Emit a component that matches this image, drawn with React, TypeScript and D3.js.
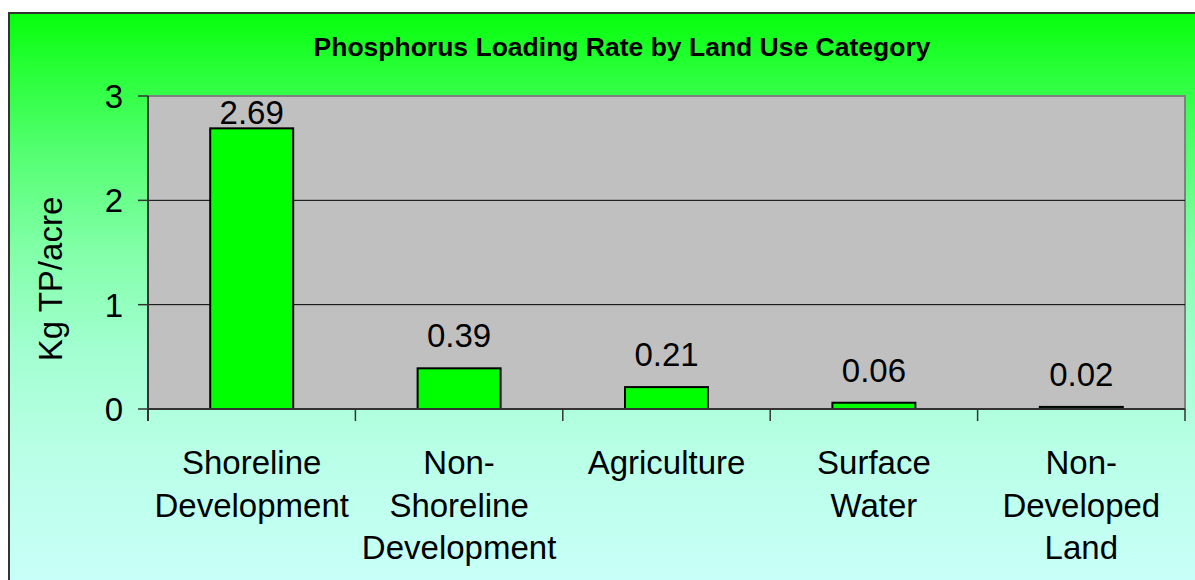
import React from "react";
import * as d3 from "d3";

const categories: string[][] = [
  ["Shoreline", "Development"],
  ["Non-", "Shoreline", "Development"],
  ["Agriculture"],
  ["Surface", "Water"],
  ["Non-", "Developed", "Land"],
];
const values: number[] = [2.69, 0.39, 0.21, 0.06, 0.02];
const yTicks: number[] = [0, 1, 2, 3];
const title = "Phosphorus Loading Rate by Land Use Category";
const yLabel = "Kg TP/acre";

const W = 1195;
const H = 580;
const plot = { left: 148, top: 96, right: 1185, bottom: 409 };
const font = "'Liberation Sans', Arial, sans-serif";
const fs = 33;

export default function App() {
  const x = d3
    .scaleBand<number>()
    .domain(values.map((_, i) => i))
    .range([plot.left, plot.right])
    .paddingInner(0.6)
    .paddingOuter(0.3);
  const band = d3.scaleBand<number>().domain(values.map((_, i) => i)).range([plot.left, plot.right]);
  const y = d3.scaleLinear().domain([0, 3]).range([plot.bottom, plot.top]);

  return (
    <svg width={W} height={H} style={{ position: "absolute", left: 0, top: 0 }}>
      <defs>
        <linearGradient id="bg" gradientUnits="userSpaceOnUse" x1="0" y1="13" x2="0" y2="580">
          <stop offset="0" stopColor="#06ff0c" />
          <stop offset="0.083" stopColor="#22ff30" />
          <stop offset="0.242" stopColor="#52ff70" />
          <stop offset="0.418" stopColor="#82ffa8" />
          <stop offset="0.594" stopColor="#a2ffd0" />
          <stop offset="0.77" stopColor="#b8ffe6" />
          <stop offset="1" stopColor="#c8fff8" />
        </linearGradient>
      </defs>
      <rect x={0} y={0} width={W} height={H} fill="#fff" />
      <rect x={9} y={13} width={1200} height={600} fill="url(#bg)" stroke="#333" strokeWidth={2} />
      <text x={622} y={56} textAnchor="middle" fontFamily={font} fontWeight="bold" fontSize={26.5}>
        {title}
      </text>
      {/* plot area */}
      <rect
        x={plot.left}
        y={plot.top}
        width={plot.right - plot.left}
        height={plot.bottom - plot.top}
        fill="#c0c0c0"
        stroke="#808080"
        strokeWidth={2}
      />
      {yTicks
        .filter((t) => t > 0 && t < 3)
        .map((t) => (
          <line key={"g" + t} x1={plot.left} x2={plot.right} y1={y(t)} y2={y(t)} stroke="#000" strokeWidth={1} />
        ))}
      {/* bars */}
      {values.map((v, i) => (
        <rect
          key={"b" + i}
          x={x(i)!}
          y={y(v)}
          width={x.bandwidth()}
          height={plot.bottom - y(v)}
          fill="#00ff00"
          stroke="#000"
          strokeWidth={2}
        />
      ))}
      {/* axes */}
      <line x1={plot.left} x2={plot.left} y1={plot.top} y2={plot.bottom + 12} stroke="#333" strokeWidth={2} />
      <line x1={plot.left} x2={plot.right} y1={plot.bottom} y2={plot.bottom} stroke="#333" strokeWidth={2} />
      {yTicks.map((t) => (
        <g key={"t" + t}>
          <line x1={plot.left - 10} x2={plot.left} y1={y(t)} y2={y(t)} stroke="#333" strokeWidth={1.5} />
          <text x={123} y={y(t) + 12} textAnchor="end" fontFamily={font} fontSize={fs}>
            {t}
          </text>
        </g>
      ))}
      {values.map((_, i) => (
        <line
          key={"xt" + i}
          x1={band(i)! + band.bandwidth()}
          x2={band(i)! + band.bandwidth()}
          y1={plot.bottom}
          y2={plot.bottom + 12}
          stroke="#333"
          strokeWidth={1.5}
        />
      ))}
      {/* value labels */}
      {values.map((v, i) => (
        <text
          key={"v" + i}
          x={x(i)! + x.bandwidth() / 2}
          y={Math.max(y(v) - 21, plot.top + 28)}
          textAnchor="middle"
          fontFamily={font}
          fontSize={fs}
        >
          {v.toFixed(2)}
        </text>
      ))}
      {/* category labels */}
      {categories.map((lines, i) => (
        <text key={"c" + i} textAnchor="middle" fontFamily={font} fontSize={fs}>
          {lines.map((l, j) => (
            <tspan key={j} x={band(i)! + band.bandwidth() / 2} y={474 + j * 42.5}>
              {l}
            </tspan>
          ))}
        </text>
      ))}
      <text
        transform={`translate(62, 279) rotate(-90)`}
        textAnchor="middle"
        fontFamily={font}
        fontSize={fs}
      >
        {yLabel}
      </text>
    </svg>
  );
}
